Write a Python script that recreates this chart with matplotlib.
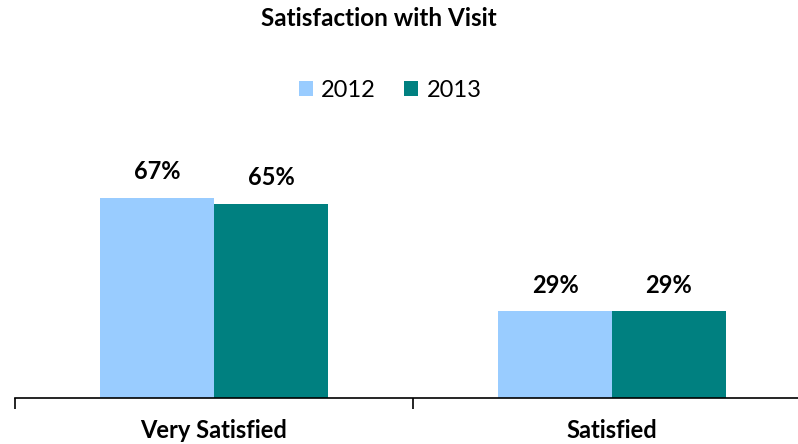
import matplotlib
matplotlib.use("Agg")
import matplotlib.pyplot as plt
import numpy as np

plt.rcParams['font.family'] = ['Lato', 'DejaVu Sans']

categories = ['Very Satisfied', 'Satisfied']
years = ['2012', '2013']
values_2012 = [67, 29]
values_2013 = [65, 29]
colors = ['#99CCFF', '#008080']

fig = plt.figure(figsize=(7.98, 4.44), dpi=100)
ax = fig.add_axes([15/798, 46/444, 796/798, 239/444])

x = np.arange(len(categories))
w = 0.286
b1 = ax.bar(x - w/2, values_2012, w, color=colors[0], label=years[0])
b2 = ax.bar(x + w/2, values_2013, w, color=colors[1], label=years[1])

for bars in (b1, b2):
    for r in bars:
        ax.text(r.get_x() + r.get_width()/2, r.get_height() + 8.7, f"{r.get_height():.0f}%",
                ha='center', va='center', fontsize=17, fontweight='bold')

ax.set_xlim(-0.5, 1.5)
ax.set_ylim(0, 80)
ax.set_xticks(x)
ax.set_xticklabels(categories, fontsize=17, fontweight='bold')
ax.tick_params(axis='x', which='major', length=0, pad=15)
ax.set_xticks([-0.5, 0.5, 1.5], minor=True)
ax.tick_params(axis='x', which='minor', length=8, width=1.2, direction='out')
ax.set_yticks([])
for s in ['top', 'right', 'left']:
    ax.spines[s].set_visible(False)
ax.spines['bottom'].set_linewidth(1.2)

fig.text(379/798, 1 - 19/444, 'Satisfaction with Visit', ha='center', va='center',
         fontsize=17.5, fontweight='bold')
fig.legend(handles=[b1, b2], labels=years, loc='center', bbox_to_anchor=(390/798, 1 - 90/444),
           ncol=2, frameon=False, fontsize=17, handlelength=0.6, handleheight=0.6,
           columnspacing=1.2, handletextpad=0.35)

fig.savefig('out.png', dpi=100)
